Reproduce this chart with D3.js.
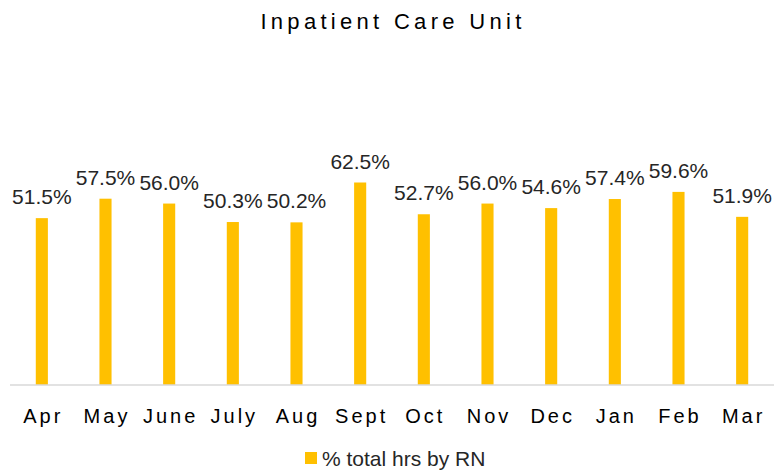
<!DOCTYPE html>
<html><head><meta charset="utf-8">
<script src="https://cdn.jsdelivr.net/npm/d3@7"></script>
<style>body{margin:0;background:#fff}svg{display:block}</style>
</head><body>
<svg id="chart" width="774" height="470"></svg>
<script>
const categories = ["Apr","May","June","July","Aug","Sept","Oct","Nov","Dec","Jan","Feb","Mar"];
const values = [51.5,57.5,56.0,50.3,50.2,62.5,52.7,56.0,54.6,57.4,59.6,51.9];
const seriesName = "% total hrs by RN";
const title = "Inpatient Care Unit";

const svg = d3.select("#chart");
const font = "'Liberation Sans', Arial, sans-serif";
const x = d3.scaleBand().domain(categories).range([10, 774]).paddingInner(0.81).paddingOuter(0.405);
const y = d3.scaleLinear().domain([0, 100]).range([385, 61]);

svg.append("text").attr("x", 393).attr("y", 29).attr("text-anchor","middle")
  .attr("font-family", font).attr("font-size", 22).attr("letter-spacing", 4.3)
  .attr("fill","#000").text(title);

svg.append("g").selectAll("rect").data(values).join("rect")
  .attr("x", (d,i)=>x(categories[i])).attr("width", x.bandwidth())
  .attr("y", d=>y(d)).attr("height", d=>y(0)-y(d)).attr("fill","#FFC000");

svg.append("g").selectAll("text").data(values).join("text")
  .attr("x", (d,i)=>x(categories[i])+x.bandwidth()/2).attr("y", d=>y(d)-14)
  .attr("text-anchor","middle").attr("font-family", font).attr("font-size", 21)
  .attr("fill","#262626").text(d=>d.toFixed(1)+"%");

const xAxis = d3.axisBottom(x).tickSize(0).tickPadding(0);
const gx = svg.append("g").attr("transform","translate(0,385)").call(xAxis);
gx.select(".domain").attr("stroke","#d9d9d9").attr("stroke-width",1.5).attr("d","M10,0H774");
gx.selectAll("text").attr("font-family", font).attr("font-size", 20).attr("letter-spacing", 3)
  .attr("fill","#000").attr("dy", null).attr("y", 38).attr("dx", 1.5);

const lg = svg.append("g");
lg.append("rect").attr("x",305).attr("y",452).attr("width",12).attr("height",12).attr("fill","#FFC000");
lg.append("text").attr("x",322).attr("y",466).attr("font-family", font).attr("font-size",21)
  .attr("fill","#262626").text(seriesName);
</script>
</body></html>
